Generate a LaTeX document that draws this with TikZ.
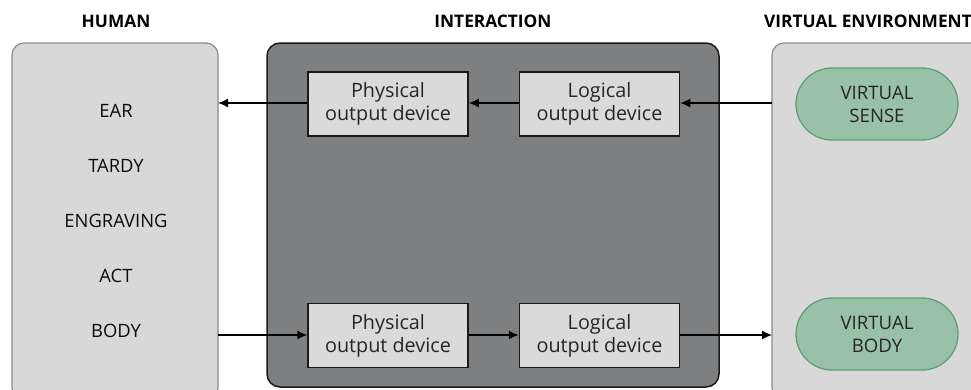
\documentclass[tikz,border=0pt]{standalone}
\usepackage{fontspec}
\setmainfont{Open Sans}
\usetikzlibrary{arrows.meta,shapes.misc}
\definecolor{hfill}{HTML}{D9D8D8}
\definecolor{hedge}{HTML}{8A8A8A}
\definecolor{ifill}{HTML}{7E7F81}
\definecolor{iedge}{HTML}{1A1A1A}
\definecolor{dfill}{HTML}{D9DAD9}
\definecolor{gfill}{HTML}{98C1A8}
\definecolor{gedge}{HTML}{5F9E78}
\tikzset{
  header/.style={font=\bfseries\fontsize{17.3}{20}\selectfont, text=black, inner sep=0pt},
  hlabel/.style={font=\fontsize{18.4}{21}\selectfont, text=black!95, inner sep=0pt},
  devbox/.style={draw=iedge, line width=1.5pt, fill=dfill, minimum width=160pt, minimum height=64pt, align=center, font=\fontsize{19.8}{23}\selectfont, text=black!85, inner sep=0pt},
  vbox/.style={rounded rectangle, draw=gedge, line width=1.3pt, fill=gfill, minimum width=162pt, minimum height=72pt, align=center, font=\fontsize{18.6}{23}\selectfont, text=black!85, inner sep=0pt},
  conn/.style={line width=1.5pt, -{Latex[length=10pt,width=9pt]}},
}
\begin{document}
\begin{tikzpicture}[x=1pt,y=-1pt]
\useasboundingbox (0,0) rectangle (971,389);
\clip (0,0) rectangle (971,389);
% panels
\draw[fill=hfill, draw=hedge, line width=1.2pt, rounded corners=12pt] (12,43) rectangle (218,400);
\draw[fill=ifill, draw=iedge, line width=1.5pt, rounded corners=13pt] (267,43) rectangle (719,387);
\draw[fill=hfill, draw=hedge, line width=1.2pt, rounded corners=12pt] (772,43) rectangle (990,400);
% headers
\node[header] (hHuman) at (116,21) {HUMAN};
\node[header] (hInter) at (493,21) {INTERACTION};
\node[header, anchor=east] (hVE) at (972,21) {VIRTUAL ENVIRONMENT};
% human labels
\node[hlabel] (ear) at (116,111) {EAR};
\node[hlabel] (tardy) at (116,166) {TARDY};
\node[hlabel] (engr) at (116,221) {ENGRAVING};
\node[hlabel] (act) at (116,276) {ACT};
\node[hlabel] (body) at (116,331) {BODY};
% device boxes
\node[devbox] (p1) at (388,104) {Physical\\output device};
\node[devbox] (l1) at (599.5,104) {Logical\\output device};
\node[devbox] (p2) at (388,335.5) {Physical\\output device};
\node[devbox] (l2) at (599.5,335.5) {Logical\\output device};
% virtual
\node[vbox] (vs) at (877,104) {VIRTUAL\\SENSE};
\node[vbox] (vb) at (877,334) {VIRTUAL\\BODY};
% anchor points on panels
\coordinate (hr1) at (218,103);
\coordinate (hr2) at (218,335);
\coordinate (vl1) at (772,103);
\coordinate (vl2) at (772,335);
% connectors
\draw[conn] (vl1) -- (l1.east |- vl1);
\draw[conn] (l1.west |- vl1) -- (p1.east |- vl1);
\draw[conn] (p1.west |- vl1) -- (hr1);
\draw[conn] (hr2) -- (p2.west |- hr2);
\draw[conn] (p2.east |- hr2) -- (l2.west |- hr2);
\draw[conn] (l2.east |- hr2) -- (vl2);
\end{tikzpicture}
\end{document}
